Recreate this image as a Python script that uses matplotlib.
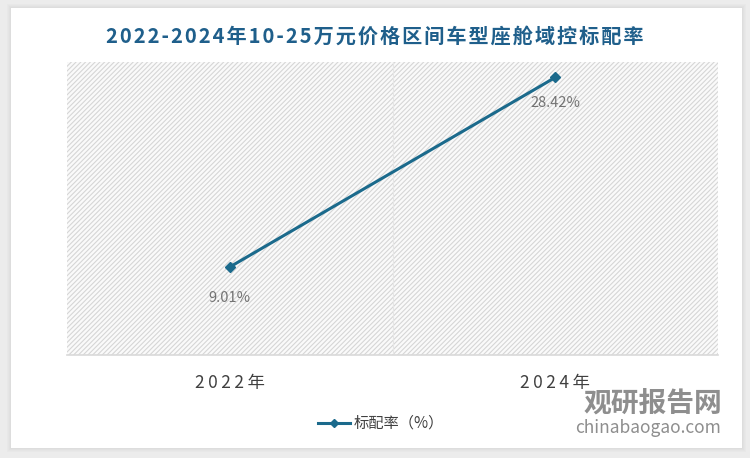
import numpy as np
import matplotlib.pyplot as plt
from matplotlib.patches import Rectangle

plt.rcParams['font.family'] = ['Noto Sans CJK SC', 'DejaVu Sans']
plt.rcParams['hatch.color'] = '#d6d6d6'
plt.rcParams['hatch.linewidth'] = 0.8

years = ['2022年', '2024年']
rate = [9.01, 28.42]
labels = ['9.01%', '28.42%']

W, H = 750, 458
fig = plt.figure(figsize=(7.5, 4.58), dpi=100)
fig.patch.set_facecolor('#ececec')

# card with soft shadow
for i, a in enumerate([0.05, 0.05, 0.06, 0.08]):
    d = 4 - i
    fig.patches.append(Rectangle(((11 - d) / W, 1 - (448 + d) / H), (731 + 2 * d) / W, (440 + 2 * d) / H,
                                 transform=fig.transFigure, facecolor='#b0b0b0', alpha=a,
                                 edgecolor='none', zorder=0))
fig.patches.append(Rectangle((11 / W, 1 - 448 / H), 731 / W, 440 / H, transform=fig.transFigure,
                             facecolor='white', edgecolor='none', zorder=1))

ax = fig.add_axes([67 / W, 1 - 355 / H, (718 - 67) / W, (355 - 62) / H])
ax.set_facecolor('none')
ax.set_zorder(2)
x = np.arange(len(years))
ax.set_xlim(-0.5, 1.5)
ax.set_ylim(0, 30)
ax.add_patch(Rectangle((-0.5, 0), 2, 30, facecolor='#fafafa', edgecolor='#d6d6d6',
                       hatch='///////', linewidth=0, zorder=0))
ax.axvline(0.5, color='#e6e6e6', linewidth=0.8, zorder=1)

ax.plot(x, rate, color='#1b6a8c', linewidth=2.2, marker='D', markersize=5.5, zorder=3)
ax.annotate(labels[0], (x[0], rate[0]), xytext=(0, -25), textcoords='offset points',
            ha='center', fontsize=10.5, color='#737373', zorder=4)
ax.annotate(labels[1], (x[1], rate[1]), xytext=(0, -21), textcoords='offset points',
            ha='center', fontsize=10.5, color='#737373', zorder=4)

for s in ['top', 'right', 'left']:
    ax.spines[s].set_visible(False)
ax.spines['bottom'].set_color('#d9d9d9')
ax.spines['bottom'].set_linewidth(1.2)
ax.set_yticks([])
ax.set_xticks(x)
ax.set_xticklabels(['\u2009'.join(y) for y in years], fontsize=12.5, color='#404040')
ax.tick_params(axis='x', length=0, pad=14)

title = '2022-2024年10-25万元价格区间车型座舱域控标配率'
fig.text(0.5, 1 - 36 / H, '\u200a'.join(title), ha='center', va='center',
         fontsize=14.5, fontweight='bold', color='#1f5f8b', zorder=5,
         family=['Noto Sans CJK SC', 'DejaVu Sans'])

# legend
fig.add_artist(plt.Line2D([318 / W, 350 / W], [1 - 423 / H] * 2, color='#1b6a8c', linewidth=2.2,
                          transform=fig.transFigure, zorder=5))
fig.add_artist(plt.Line2D([334 / W], [1 - 423 / H], color='#1b6a8c', marker='D', markersize=4.5,
                          transform=fig.transFigure, zorder=5))
fig.text(354 / W, 1 - 423 / H, '标配率（%）', ha='left', va='center', fontsize=11,
         color='#404040', zorder=5)

# watermark
fig.text(584 / W, 1 - 404 / H, '观研报告网', ha='left', va='center', fontsize=20,
         fontweight='bold', color='#7a7a7a', alpha=0.85, zorder=5)
fig.text(575 / W, 1 - 428 / H, 'chinabaogao.com', ha='left', va='center', fontsize=12.5,
         color='#7a7a7a', alpha=0.85, zorder=5)

fig.savefig('out.png', dpi=100)
